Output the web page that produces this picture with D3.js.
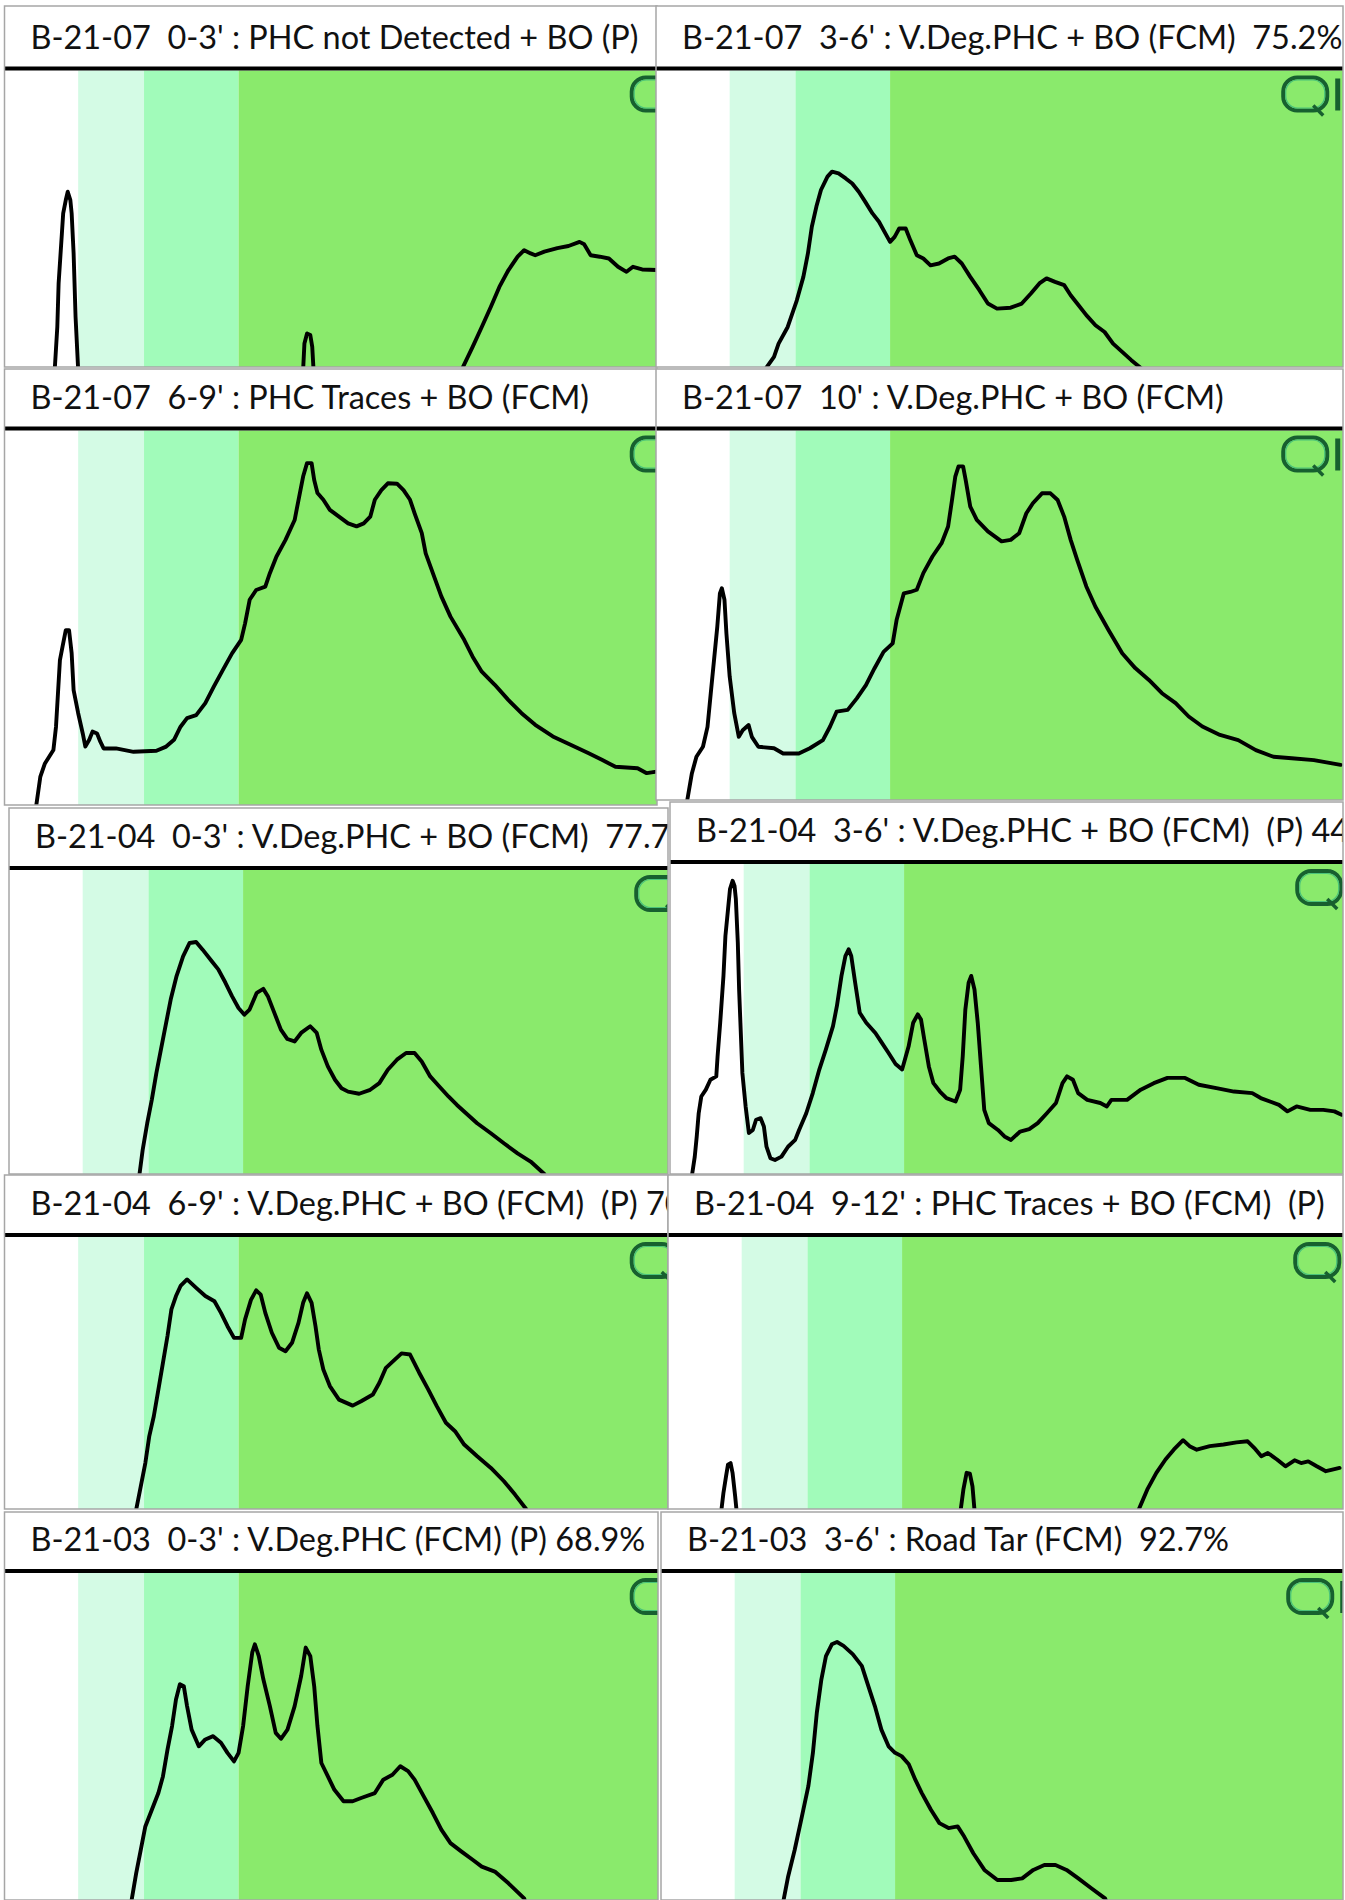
<!DOCTYPE html>
<meta charset="utf-8">
<style>
    body {
        margin: 0;
        background: #fff;
    }

    .title {
        font-family: Lato, 'Open Sans', sans-serif;
        font-size: 32px;
        fill: #111;
        white-space: pre;
    }

    .trace {
        fill: none;
        stroke: #000;
        stroke-width: 3.9;
        stroke-linejoin: round;
        stroke-linecap: round;
    }

    .frame {
        fill: none;
        stroke: #a6a6a6;
        stroke-width: 1.5;
    }
</style>
<svg width="1345" height="1900"></svg>
<script src="https://d3js.org/d3.v7.min.js"></script>
<script>
    // sample titles, in reading order (left/right, top to bottom)
    var titles = [
        "B-21-07  0-3' : PHC not Detected + BO (P)",
        "B-21-07  3-6' : V.Deg.PHC + BO (FCM)  75.2%",
        "B-21-07  6-9' : PHC Traces + BO (FCM)",
        "B-21-07  10' : V.Deg.PHC + BO (FCM)",
        "B-21-04  0-3' : V.Deg.PHC + BO (FCM)  77.7",
        "B-21-04  3-6' : V.Deg.PHC + BO (FCM)  (P) 44",
        "B-21-04  6-9' : V.Deg.PHC + BO (FCM)  (P) 70",
        "B-21-04  9-12' : PHC Traces + BO (FCM)  (P)",
        "B-21-03  0-3' : V.Deg.PHC (FCM) (P) 68.9%",
        "B-21-03  3-6' : Road Tar (FCM)  92.7%"
    ];

    // carbon range bands (retention, % of chromatogram width)
    var bandNames = ["solvent", "light", "middle", "heavy"];
    var bandFrom = [0, 11.3, 21.4, 35.9];
    var bandTo = [11.3, 21.4, 35.9, 110];

    // traces: [retention %, response %]
    var b2107_0_3 = [[7.5,-4],[7.7,-1],[8.1,13.5],[8.3,28.2],[8.8,45.0],[9.0,51.8],[9.4,56.3],[9.7,59.1],[10.1,56.3],[10.3,51.8],[10.6,38.3],[10.9,16.9],[11.3,-1],[12,-8],[45,-8],[45.8,-1],[46.0,7.9],[46.4,11.3],[46.9,10.8],[47.2,6.8],[47.4,-1],[48,-8],[69.5,-8],[70.1,-1],[71.8,6.8],[73.2,13.5],[74.6,20.3],[75.9,27.0],[77.3,32.7],[78.7,37.2],[79.7,39.4],[80.7,38.3],[81.4,37.7],[82.8,38.9],[84.8,40.1],[86.5,40.8],[88.2,42.2],[88.9,41.4],[89.9,37.7],[91.3,37.2],[92.7,36.6],[94.1,33.8],[95.4,32.1],[96.4,33.8],[97.8,32.9],[100,32.7]];
    var b2107_3_6 = [[16.5,-4],[16.8,-0.6],[18.1,3.4],[18.8,7.9],[20.2,13.5],[21.6,22.5],[22.6,30.4],[23.3,38.3],[23.9,47.3],[24.6,54.1],[25.3,59.7],[26.3,64.2],[27.0,65.9],[28.0,65.3],[29.1,63.6],[30.1,61.9],[31.1,59.1],[32.1,55.7],[33.2,51.8],[34.2,49.0],[35.2,45.0],[35.9,42.2],[36.6,43.9],[37.3,46.7],[38.3,46.7],[39.0,42.8],[40.0,37.7],[41.0,36.6],[42.1,34.3],[43.4,34.9],[44.8,36.6],[45.8,37.2],[46.9,34.9],[48.2,30.4],[49.6,25.9],[50.9,21.4],[52.3,19.7],[54.4,20.0],[56.1,21.4],[57.5,24.8],[58.8,28.2],[59.9,29.9],[61.2,28.7],[62.6,27.6],[63.6,24.2],[64.6,21.4],[66.0,17.5],[67.4,14.1],[68.8,11.8],[70.1,7.9],[71.5,5.1],[72.9,2.3],[74.5,-0.6],[75.5,-5]];
    var b2107_6_9 = [[4.6,-4],[4.8,-1],[5.5,7.6],[6.2,11.1],[7.5,14.7],[7.9,20.9],[8.2,29.8],[8.5,38.7],[8.9,42.3],[9.4,46.7],[9.9,46.7],[10.3,40.5],[10.6,30.7],[11.3,24.5],[12.0,19.1],[12.4,15.6],[13.0,17.4],[13.5,19.6],[14.2,19.1],[14.7,16.9],[15.2,15.1],[17.1,15.1],[19.8,14.2],[23.3,14.5],[24.8,15.6],[26.0,17.4],[27.0,20.9],[28.0,23.2],[29.4,24.0],[30.8,27.2],[32.1,31.6],[33.5,36.1],[34.9,40.5],[36.3,44.1],[36.9,48.5],[37.6,54.8],[38.6,57.4],[40.0,58.3],[40.7,61.9],[41.7,66.3],[43.1,70.8],[44.5,76.1],[45.1,81.5],[45.8,87.7],[46.4,91.3],[47.1,91.3],[47.5,86.8],[48.0,83.3],[48.9,81.5],[49.9,78.8],[51.3,77.0],[52.7,75.2],[54.0,74.4],[55.1,75.2],[56.1,77.0],[56.8,81.5],[57.8,84.1],[58.8,85.9],[60.2,85.8],[61.2,84.1],[62.2,81.5],[62.9,77.9],[64.0,72.6],[64.6,67.2],[65.7,61.9],[67.0,55.7],[68.4,50.3],[70.5,44.1],[71.8,39.6],[73.2,35.6],[75.2,32.1],[77.3,28.0],[79.3,24.5],[81.4,21.4],[84.1,18.3],[86.9,16.0],[89.6,13.8],[91.7,12.0],[93.7,10.2],[97.1,9.8],[98.5,8.5],[100,8.9]];
    var b2107_10 = [[4.6,-4],[4.8,0],[5.5,7.2],[6.2,11.7],[7.2,14.4],[7.9,19.8],[8.4,28.9],[8.9,37.9],[9.4,46.9],[9.8,55.9],[10.1,57.3],[10.5,54.2],[10.8,45.1],[11.3,33.4],[12.0,23.5],[12.7,17.1],[13.3,18.9],[14.2,20.3],[14.7,17.1],[15.7,14.4],[18.1,14.0],[19.5,12.6],[21.9,12.6],[23.6,14.0],[25.6,16.2],[26.7,19.9],[27.7,23.9],[29.4,24.4],[30.8,27.5],[32.2,31.1],[33.5,35.6],[34.9,40.1],[36.3,42.4],[36.9,48.7],[38.0,55.9],[39.0,56.3],[40.0,56.9],[41.0,61.4],[42.4,65.9],[43.8,69.5],[44.8,74.0],[45.4,81.2],[45.9,87.5],[46.4,90.3],[47.1,90.3],[47.5,86.6],[48.2,79.4],[49.2,75.8],[50.9,72.7],[53.0,70.0],[54.4,70.4],[55.7,72.2],[56.8,77.6],[57.8,80.3],[59.2,83.0],[60.5,83.0],[61.6,81.2],[62.6,76.7],[63.6,70.4],[64.6,65.0],[66.0,57.8],[67.4,52.3],[69.4,46.0],[71.5,39.7],[73.5,35.7],[75.6,32.5],[77.6,28.9],[79.7,26.2],[81.7,22.6],[83.8,19.9],[86.5,17.6],[89.3,16.2],[92.0,13.5],[94.7,11.7],[97.5,11.3],[100.9,10.8],[105.0,9.5]];
    var b2104_0_3 = [[19.8,-4],[20.0,-0.3],[20.5,7.9],[21.2,16.7],[21.9,24.4],[22.6,33.2],[23.3,40.9],[24.1,49.7],[24.8,57.4],[25.7,65.1],[26.7,71.6],[27.7,76.0],[28.7,76.3],[29.7,73.8],[31.1,70.0],[32.1,67.3],[33.2,62.9],[34.2,58.5],[35.2,54.6],[36.1,52.4],[36.9,54.1],[38.0,59.6],[39.0,60.9],[39.7,58.5],[40.7,53.0],[41.7,47.5],[42.7,44.4],[43.8,43.6],[44.8,46.4],[46.2,48.6],[47.2,46.4],[47.9,40.9],[48.9,35.4],[50.0,31.0],[51.0,28.2],[52.0,27.1],[53.7,26.4],[55.4,27.7],[56.8,29.9],[58.1,34.3],[59.5,37.6],[60.9,39.8],[62.2,39.8],[63.3,37.0],[64.6,32.1],[66.0,28.8],[67.4,25.5],[68.7,22.7],[70.1,20.0],[71.8,16.7],[73.9,13.4],[75.9,10.1],[78.0,6.8],[80.0,4.1],[82.1,0],[83,-4]];
    var b2104_3_6 = [[3.3,-4],[3.4,0],[3.8,5.6],[4.1,12.1],[4.4,19.6],[4.8,25.0],[5.5,27.2],[6.2,30.4],[7.1,31.5],[7.3,38.0],[7.7,48.8],[8.2,63.9],[8.5,76.8],[8.9,85.4],[9.2,91.9],[9.6,94.6],[9.9,92.9],[10.1,88.7],[10.4,74.6],[10.6,59.5],[10.8,48.8],[11.1,32.6],[11.6,21.8],[12.1,13.2],[12.7,14.2],[13.2,17.5],[13.9,18.0],[14.4,15.3],[14.8,8.8],[15.4,5.1],[16.1,4.5],[17.1,5.6],[18.1,8.8],[19.2,11.0],[19.8,14.2],[20.9,19.6],[21.9,26.1],[22.9,33.7],[23.9,40.1],[25.0,47.7],[25.6,54.2],[26.3,63.9],[26.9,70.3],[27.4,72.5],[27.8,70.3],[28.4,61.7],[29.1,52.0],[30.1,48.8],[31.5,45.5],[32.5,42.3],[33.5,39.1],[34.6,35.5],[35.6,33.7],[36.6,41.2],[37.3,48.8],[38.0,51.5],[38.5,49.8],[39.0,43.4],[39.7,34.7],[40.4,29.3],[41.4,26.6],[42.4,24.5],[43.8,23.4],[44.5,27.2],[44.9,38.0],[45.3,53.1],[45.8,61.7],[46.2,63.9],[46.7,59.5],[47.2,48.8],[47.7,34.7],[48.2,20.7],[48.9,16.4],[50.3,14.2],[51.3,12.1],[52.3,11.0],[53.7,13.7],[55.1,14.5],[56.4,16.4],[57.8,19.6],[59.2,22.9],[60.2,29.3],[60.9,31.5],[61.8,30.4],[62.6,26.1],[64.0,23.9],[66.0,22.9],[67.0,21.8],[67.7,23.9],[70.1,23.9],[72.2,27.2],[74.2,29.3],[76.3,31.0],[79.0,31.0],[81.1,28.8],[83.8,27.7],[86.5,26.6],[89.3,26.1],[90.6,24.5],[93.4,22.3],[94.7,20.2],[96.1,21.8],[98.2,20.7],[100.2,20.7],[101.9,20.2],[103.0,19.1]];
    var b2104_6_9 = [[20.0,-4],[20.2,-0.2],[20.9,8.3],[21.6,16.9],[22.2,26.7],[22.9,34.1],[23.6,43.9],[24.3,53.7],[25.0,63.6],[25.6,73.4],[26.3,78.3],[27.0,82.0],[28.0,84.4],[29.4,81.3],[30.8,78.3],[32.2,76.4],[33.2,72.1],[34.2,67.2],[35.2,62.9],[36.3,62.9],[36.9,69.7],[37.8,76.9],[38.6,80.4],[39.3,78.8],[40.0,72.1],[41.0,64.8],[42.1,59.3],[43.1,58.0],[44.1,61.1],[45.1,68.5],[45.8,75.8],[46.4,79.3],[47.1,75.8],[47.7,67.2],[48.2,58.7],[48.9,51.3],[49.9,45.2],[51.3,40.2],[53.4,38.0],[54.7,39.6],[56.5,42.1],[57.5,46.4],[58.5,51.9],[59.9,55.0],[60.9,57.2],[62.2,56.8],[63.6,50.1],[65.0,43.9],[66.3,37.8],[67.7,31.7],[69.1,28.6],[70.5,23.7],[72.5,19.4],[74.6,15.1],[76.6,10.2],[78.3,5.3],[80.0,0],[80.8,-4]];
    var b2104_9_12 = [[8.0,-4],[8.2,-0.2],[8.5,5.9],[8.9,12.0],[9.2,16.3],[9.6,16.9],[9.9,13.3],[10.3,4.7],[10.5,-0.2],[11,-8],[44.4,-8],[44.9,-0.2],[45.3,7.1],[45.8,13.3],[46.3,13.0],[46.7,8.3],[47.0,-0.2],[47.5,-8],[71.6,-8],[72.2,-0.2],[73.5,7.1],[74.9,13.3],[76.3,18.2],[77.6,21.9],[79.0,25.3],[80.0,23.1],[81.1,21.8],[83.1,23.1],[85.2,23.7],[87.2,24.5],[88.9,24.9],[89.9,22.5],[91.0,19.4],[92.0,20.6],[93.4,18.2],[94.7,15.7],[96.1,17.9],[97.1,16.9],[98.2,17.5],[99.5,15.7],[100.9,13.9],[101.9,14.5],[103.0,15.1]];
    var b2103_0_3 = [[19.3,-4],[19.5,0],[20.2,8.2],[20.9,15.3],[21.6,22.5],[22.6,27.6],[23.6,32.7],[24.3,37.8],[25.0,46.0],[25.7,53.2],[26.3,61.3],[26.9,66.0],[27.5,65.4],[28.0,59.3],[28.7,52.1],[29.8,47.0],[30.8,49.1],[32.0,50.1],[33.2,48.1],[34.2,45.0],[35.2,42.4],[35.9,45.0],[36.6,53.2],[37.3,65.4],[38.0,75.7],[38.4,78.2],[39.0,74.6],[39.7,67.5],[40.7,59.3],[41.6,51.1],[42.4,49.3],[43.4,52.1],[44.5,59.3],[45.5,68.5],[46.2,77.2],[46.9,74.6],[47.5,65.4],[48.0,53.2],[48.6,41.9],[49.6,37.8],[50.6,33.7],[52.0,30.2],[53.4,30.2],[54.7,31.2],[56.8,32.7],[58.1,36.8],[59.5,38.3],[60.7,40.9],[61.9,39.4],[62.9,36.8],[64.3,31.7],[65.7,26.6],[67.0,21.5],[68.4,17.4],[70.1,14.8],[71.8,12.3],[73.2,10.2],[75.2,8.7],[77.3,5.1],[79.7,0.5],[80.5,-4]];
    var b2103_3_6 = [[18.6,-4],[18.8,0],[19.5,7.2],[20.5,15.3],[21.5,24.5],[22.6,34.8],[23.3,45.0],[23.9,57.3],[24.6,67.5],[25.3,74.6],[26.2,78.2],[27.0,78.9],[28.0,77.7],[29.4,75.2],[30.8,71.6],[31.8,65.4],[32.8,59.3],[33.8,52.1],[34.9,47.0],[35.9,45.0],[36.9,44.0],[38.0,41.5],[39.0,36.8],[40.0,32.7],[41.4,27.6],[42.7,23.5],[44.1,22.0],[45.5,22.5],[46.5,19.4],[47.9,14.3],[49.6,9.2],[51.6,6.1],[53.7,6.1],[55.4,6.6],[57.1,9.2],[58.8,10.7],[60.5,10.7],[62.2,9.2],[64.0,6.6],[66.0,3.6],[68.1,0.5],[69.1,-4]];

    var traces = [b2107_0_3, b2107_3_6, b2107_6_9, b2107_10, b2104_0_3,
        b2104_3_6, b2104_6_9, b2104_9_12, b2103_0_3, b2103_3_6];

    // cell boxes of the report table (page pixels)
    var layout = [
        {left: 4.5, right: 657, top: 6, line: 68.5, bottom: 367},
        {left: 656, right: 1343, top: 6, line: 68.5, bottom: 367},
        {left: 4.5, right: 657, top: 369, line: 428.5, bottom: 805},
        {left: 656, right: 1343, top: 369, line: 428.5, bottom: 800},
        {left: 9, right: 668, top: 808, line: 868, bottom: 1174},
        {left: 670, right: 1343, top: 802, line: 862, bottom: 1174},
        {left: 4.5, right: 668, top: 1175, line: 1235, bottom: 1509},
        {left: 668, right: 1343, top: 1175, line: 1235, bottom: 1509},
        {left: 4.5, right: 658, top: 1512, line: 1571, bottom: 1900},
        {left: 661, right: 1343, top: 1512, line: 1571, bottom: 1900}
    ];

    var svg = d3.select("svg");

    // same chromatogram scale in every cell, cells are just cropped differently
    var x = d3.scaleLinear().domain([0, 100]).range([0, 652]);

    var bandColor = d3.scaleOrdinal()
        .domain(bandNames)
        .range(["#ffffff", "#d4fbe5", "#a1fbba", "#8aea6c"]);

    var bands = bandNames.map(function (n, i) {
        return {name: n, from: bandFrom[i], to: bandTo[i]};
    });

    // the report font is narrower than Lato, squeeze titles to match
    var probe = svg.append("text").attr("class", "title").text(titles[0]);
    var squeeze = 608 / probe.node().getComputedTextLength();
    probe.remove();

    layout.forEach(function (p, i) {
        var w = p.right - p.left,
            plotTop = p.line + 2,
            h = p.bottom - plotTop;

        var g = svg.append("g").attr("transform", "translate(" + p.left + "," + p.top + ")");

        g.append("clipPath").attr("id", "clip" + i)
            .append("rect")
            .attr("width", w)
            .attr("height", p.bottom - p.top);

        var inner = g.append("g").attr("clip-path", "url(#clip" + i + ")");

        inner.append("rect")
            .attr("width", w)
            .attr("height", p.bottom - p.top)
            .attr("fill", "#fff");

        var t = inner.append("text")
            .attr("class", "title")
            .attr("x", 26)
            .attr("y", p.line - 20 - p.top)
            .text(titles[i]);
        t.attr("textLength", t.node().getComputedTextLength() * squeeze)
            .attr("lengthAdjust", "spacingAndGlyphs");

        var plot = inner.append("g").attr("transform", "translate(0," + (plotTop - p.top) + ")");

        var y = d3.scaleLinear().domain([0, 100]).range([h, 0]);

        plot.selectAll("rect.band")
            .data(bands)
            .enter().append("rect")
            .attr("class", "band")
            .attr("x", function (d) { return x(d.from); })
            .attr("width", function (d) { return x(d.to) - x(d.from); })
            .attr("height", h)
            .attr("fill", function (d) { return bandColor(d.name); });

        // lab logo in the corner of each chromatogram
        var logo = plot.append("g").attr("transform", "translate(" + x(96.2) + ",7)");
        logo.append("rect")
            .attr("width", 44).attr("height", 33).attr("rx", 14)
            .attr("fill", "none").attr("stroke", "#17602f").attr("stroke-width", 4);
        logo.append("rect")
            .attr("x", 2.5).attr("y", 2.5).attr("width", 39).attr("height", 28).attr("rx", 12)
            .attr("fill", "none").attr("stroke", "#49c27a").attr("stroke-width", 1.2);
        logo.append("path")
            .attr("d", "M30,28 L40,38")
            .attr("stroke", "#17602f").attr("stroke-width", 3.5);
        logo.append("rect")
            .attr("x", 52).attr("y", 1).attr("width", 5).attr("height", 32)
            .attr("fill", "#17602f");

        plot.append("path")
            .datum(traces[i])
            .attr("class", "trace")
            .attr("d", d3.line()
                .x(function (d) { return x(d[0]); })
                .y(function (d) { return y(d[1]); }));

        inner.append("line")
            .attr("x1", 0).attr("x2", w)
            .attr("y1", p.line - p.top).attr("y2", p.line - p.top)
            .attr("stroke", "#000")
            .attr("stroke-width", 4);

        g.append("rect")
            .attr("class", "frame")
            .attr("width", w)
            .attr("height", p.bottom - p.top);
    });
</script>
